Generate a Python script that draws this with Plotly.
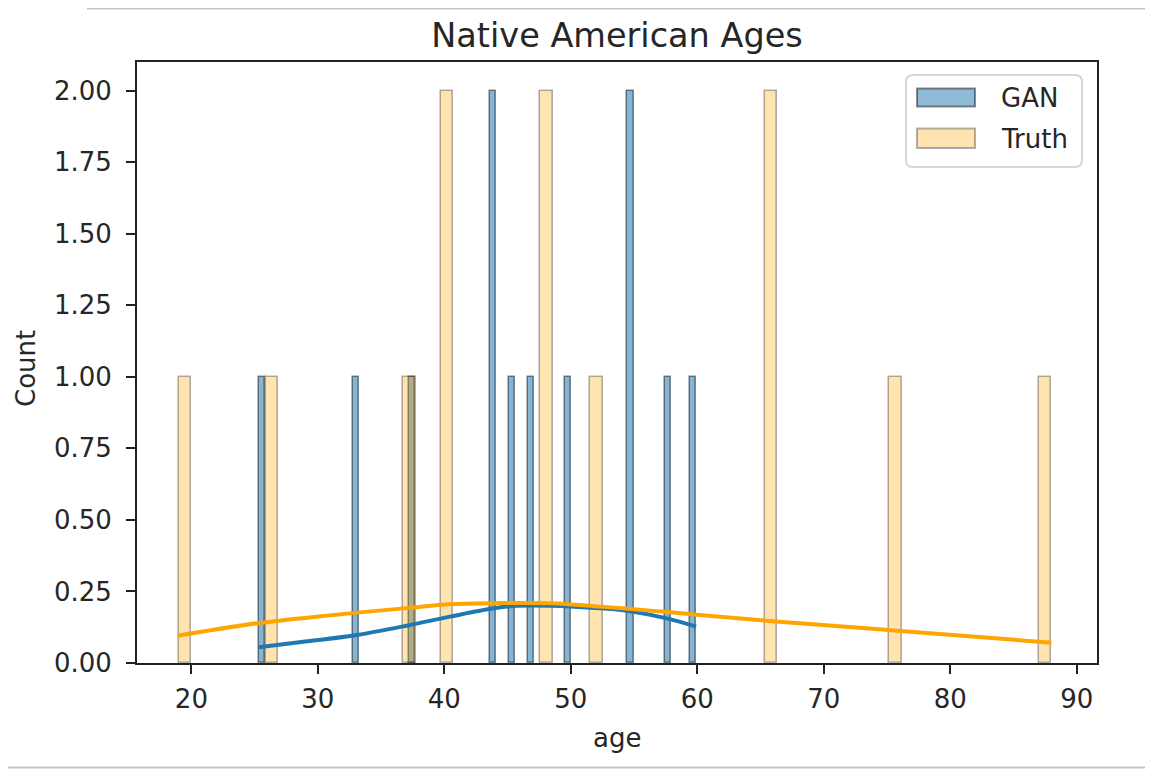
import numpy as np
import plotly.graph_objects as go

# ---- data ----
gan_ages = [25.35, 33.0, 37.45, 43.75, 43.8, 45.35, 46.7, 49.65, 54.65, 54.7, 57.6, 59.9]
truth_ages = [19, 26, 37, 40, 40, 48, 48, 52, 66, 66, 76, 88]
n_bins = 70

gan_kde_x = [25.33, 29.0, 33.1, 37.3, 40.45, 43.9, 45.7, 48.4, 52.3, 54.7, 57.6, 59.9]
gan_kde_y = [0.055, 0.075, 0.098, 0.133, 0.162, 0.191, 0.200, 0.200, 0.191, 0.181, 0.156, 0.127]
truth_kde_x = [18.9, 25.2, 33.1, 37.3, 40.4, 43.9, 48.4, 52.3, 56.3, 60.2, 65.7, 75.8, 88.0]
truth_kde_y = [0.095, 0.139, 0.176, 0.193, 0.205, 0.209, 0.209, 0.197, 0.183, 0.168, 0.147, 0.113, 0.071]

x_ticks = [20, 30, 40, 50, 60, 70, 80, 90]
y_ticks = [0, 0.25, 0.5, 0.75, 1.0, 1.25, 1.5, 1.75, 2.0]

title_text = "Native American Ages"
x_label = "age"
y_label = "Count"
legend_names = ["GAN", "Truth"]

# ---- layout geometry (target positions in the 1153x770 window) ----
OFF = 8  # page body margin
W, H = 1153 - OFF, 770 - OFF
VL, VR, VT, VB = 137, 1097, 62, 663  # axes box in window pixels
L, R, T, B = VL - OFF, VR - OFF, VT - OFF, VB - OFF
FONT = "DejaVu Sans"
TXT = "#262626"


def px(x):
    """window pixel x -> paper x"""
    return (x - OFF - L) / (R - L)


def py(y):
    """window pixel y -> paper y"""
    return (B - (y - OFF)) / (B - T)


def hist(vals):
    counts, edges = np.histogram(vals, bins=n_bins)
    centers = (edges[:-1] + edges[1:]) / 2
    width = edges[1] - edges[0]
    m = counts > 0
    return centers[m], counts[m], width


fig = go.Figure()

gx, gc, gw = hist(gan_ages)
tx, tc, tw = hist(truth_ages)

fig.add_trace(go.Bar(x=gx, y=gc, width=gw, name=legend_names[0],
                     marker=dict(color="rgba(31,119,180,0.55)",
                                 line=dict(color="rgba(0,0,0,0.45)", width=1.6)),
                     showlegend=False))
fig.add_trace(go.Bar(x=tx, y=tc, width=tw, name=legend_names[1],
                     marker=dict(color="rgba(255,165,0,0.3)",
                                 line=dict(color="rgba(0,0,0,0.3)", width=1.6)),
                     showlegend=False))
fig.add_trace(go.Scatter(x=gan_kde_x, y=gan_kde_y, mode="lines",
                         line=dict(color="#1f77b4", width=4, shape="spline"),
                         showlegend=False))
fig.add_trace(go.Scatter(x=truth_kde_x, y=truth_kde_y, mode="lines",
                         line=dict(color="#ffa500", width=4, shape="spline"),
                         showlegend=False))

axis_common = dict(showline=True, mirror=True, linecolor="#222", linewidth=2,
                   ticks="outside", ticklen=9, tickwidth=2, tickcolor="#222",
                   showgrid=False, zeroline=False,
                   tickfont=dict(family=FONT, size=26, color=TXT))

fig.update_layout(
    width=W, height=H, autosize=False,
    margin=dict(l=L, r=W - R, t=T, b=H - B, pad=0),
    paper_bgcolor="white", plot_bgcolor="white",
    barmode="overlay", bargap=0,
    showlegend=False,
    title=dict(text=title_text, x=0.5, xref="paper", y=1 - (35 - OFF) / H, yref="container",
               xanchor="center", yanchor="middle",
               font=dict(family=FONT, size=33.5, color=TXT)),
    xaxis=dict(range=[15.7, 91.6], tickvals=x_ticks, ticktext=[str(v) for v in x_ticks],
               ticklabelstandoff=3, **axis_common),
    yaxis=dict(range=[0, 2.1], tickvals=y_ticks, tickformat=".2f",
               ticklabelstandoff=9, **axis_common),
)

annotations = [
    dict(text=x_label, x=px(617), y=py(738), xref="paper", yref="paper", showarrow=False,
         xanchor="center", yanchor="middle", font=dict(family=FONT, size=26, color=TXT)),
    dict(text=y_label, x=px(26), y=py(369), xref="paper", yref="paper", showarrow=False,
         textangle=-90, xanchor="center", yanchor="middle",
         font=dict(family=FONT, size=26, color=TXT)),
    dict(text=legend_names[0], x=px(999), y=py(98), xref="paper", yref="paper",
         showarrow=False, xanchor="left", yanchor="middle",
         font=dict(family=FONT, size=26, color=TXT)),
    dict(text=legend_names[1], x=px(999), y=py(139), xref="paper", yref="paper",
         showarrow=False, xanchor="left", yanchor="middle",
         font=dict(family=FONT, size=26, color=TXT)),
]


def rounded_rect(x0, y0, x1, y1, r):
    def P(x, y):
        return f"{px(x):.5f},{py(y):.5f}"
    return (f"M {P(x0 + r, y0)} L {P(x1 - r, y0)} Q {P(x1, y0)} {P(x1, y0 + r)} "
            f"L {P(x1, y1 - r)} Q {P(x1, y1)} {P(x1 - r, y1)} "
            f"L {P(x0 + r, y1)} Q {P(x0, y1)} {P(x0, y1 - r)} "
            f"L {P(x0, y0 + r)} Q {P(x0, y0)} {P(x0 + r, y0)} Z")


shapes = [
    dict(type="path", path=rounded_rect(906, 75, 1082, 167, 7), xref="paper", yref="paper",
         line=dict(color="#d6d6d6", width=2), fillcolor="rgba(255,255,255,0.8)"),
    dict(type="rect", x0=px(917), x1=px(975), y0=py(88.5), y1=py(106.5),
         xref="paper", yref="paper", fillcolor="rgba(31,119,180,0.5)",
         line=dict(color="rgba(0,0,0,0.45)", width=2)),
    dict(type="rect", x0=px(917), x1=px(975), y0=py(128.5), y1=py(148),
         xref="paper", yref="paper", fillcolor="rgba(255,165,0,0.3)",
         line=dict(color="rgba(0,0,0,0.3)", width=2)),
    # notebook frame lines around the image
    dict(type="line", x0=px(87), x1=px(1153), y0=py(8.5), y1=py(8.5), xref="paper", yref="paper",
         line=dict(color="#c4c4c4", width=2)),
    dict(type="line", x0=px(8), x1=px(1153), y0=py(767.5), y1=py(767.5), xref="paper", yref="paper",
         line=dict(color="#c4c4c4", width=2)),
]

fig.update_layout(annotations=annotations, shapes=shapes)

fig.write_html("out.html")
